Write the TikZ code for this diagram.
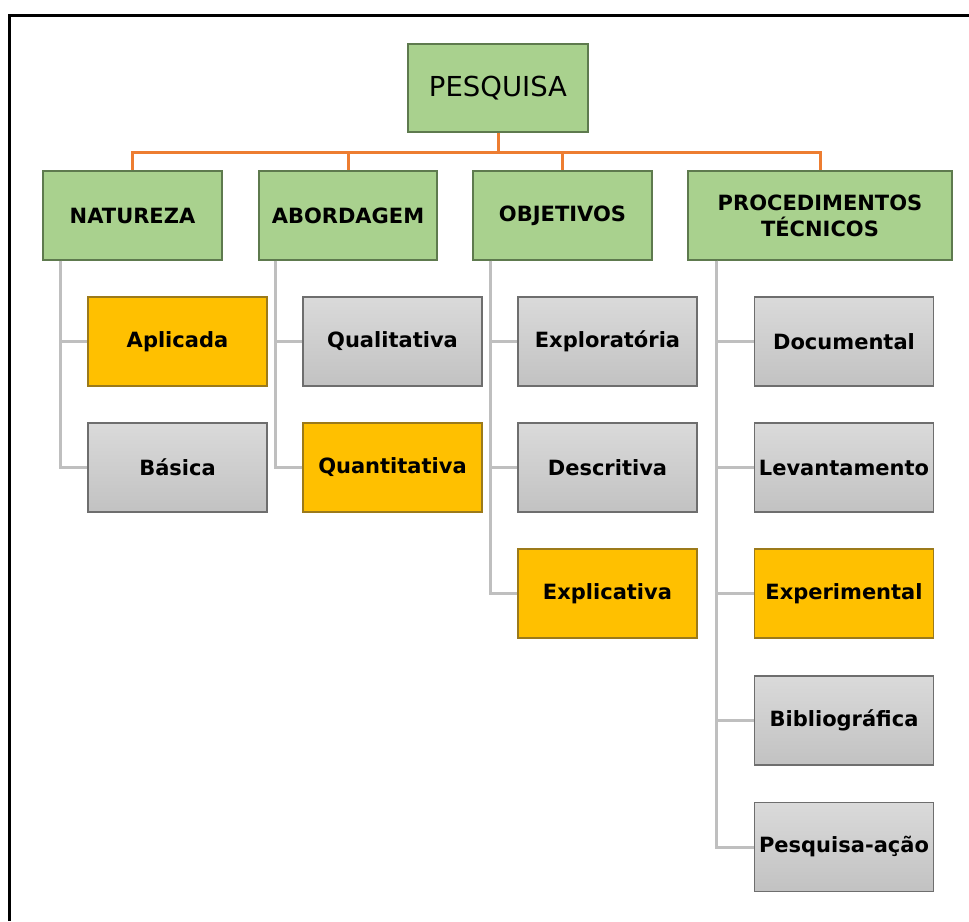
\documentclass[tikz,border=0pt]{standalone}
\usepackage{fontspec}
\setmainfont{DejaVu Sans}
\definecolor{leafgreen}{HTML}{A9D18E}
\definecolor{greenedge}{HTML}{5E7A4E}
\definecolor{amber}{HTML}{FFC000}
\definecolor{amberedge}{HTML}{9C7A1A}
\definecolor{greytop}{HTML}{DADADA}
\definecolor{greybot}{HTML}{C2C2C2}
\definecolor{greyedge}{HTML}{6E6E6E}
\definecolor{busorange}{HTML}{ED7D31}
\definecolor{treegrey}{HTML}{BFBFBF}
\begin{document}
\begin{tikzpicture}[x=1pt,y=-1pt,
  basebox/.style={rectangle, inner sep=2pt, line width=1.3pt, align=center,
    font=\fontsize{21}{26}\selectfont\bfseries, text=black},
  headbox/.style={basebox, fill=leafgreen, draw=greenedge,
    minimum width=179pt, minimum height=89pt},
  pickbox/.style={basebox, fill=amber, draw=amberedge,
    minimum width=179pt, minimum height=89pt},
  itembox/.style={basebox, top color=greytop, bottom color=greybot, draw=greyedge,
    minimum width=179pt, minimum height=89pt},
  busline/.style={draw=busorange, line width=3pt},
  treeline/.style={draw=treegrey, line width=3pt},
]
\useasboundingbox (0,0) rectangle (969,921);
\fill[white] (0,0) rectangle (969,921);

% outer frame (top and left edges)
\draw[line width=3.5pt, line join=miter] (9.5,921) -- (9.5,15.5) -- (969,15.5);

% root
\node[headbox, minimum width=180pt, minimum height=88pt,
  font=\fontsize{27.5}{30}\selectfont] (pesq) at (498,88) {PESQUISA};

% categories
\node[headbox] (nat) at (132.5,215.5) {NATUREZA};
\node[headbox, minimum width=178pt] (abo) at (348,215.5) {ABORDAGEM};
\node[headbox] (obj) at (562.5,215.5) {OBJETIVOS};
\node[headbox, minimum width=264pt] (proc) at (820,215.5) {PROCEDIMENTOS\\TÉCNICOS};

% orange bus
\coordinate (bus) at (498,152);
\draw[busline] (pesq.south) -- (bus);
\draw[busline] (nat.north) |- (bus);
\draw[busline] (abo.north) |- (bus);
\draw[busline] (obj.north) |- (bus);
\draw[busline] (proc.north) |- (bus);

% NATUREZA
\node[pickbox] (apl) at (177.5,341.5) {Aplicada};
\node[itembox] (bas) at (177.5,467.5) {Básica};
% ABORDAGEM
\node[itembox] (qual) at (392.5,341.5) {Qualitativa};
\node[pickbox] (quan) at (392.5,467.5) {Quantitativa};
% OBJETIVOS
\node[itembox] (expl) at (607.5,341.5) {Exploratória};
\node[itembox] (desc) at (607.5,467.5) {Descritiva};
\node[pickbox] (expc) at (607.5,593.5) {Explicativa};
% PROCEDIMENTOS TÉCNICOS
\node[itembox] (doc) at (844,341.5) {Documental};
\node[itembox] (lev) at (844,467.5) {Levantamento};
\node[pickbox] (expe) at (844,593.5) {Experimental};
\node[itembox] (bib) at (844,720.5) {Bibliográfica};
\node[itembox] (pac) at (844,847) {Pesquisa-ação};

% grey tree connectors
\draw[treeline] ([xshift=18pt]nat.south west) |- (apl.west);
\draw[treeline] ([xshift=18pt]nat.south west) |- (bas.west);
\draw[treeline] ([xshift=17pt]abo.south west) |- (qual.west);
\draw[treeline] ([xshift=17pt]abo.south west) |- (quan.west);
\draw[treeline] ([xshift=18pt]obj.south west) |- (expl.west);
\draw[treeline] ([xshift=18pt]obj.south west) |- (desc.west);
\draw[treeline] ([xshift=18pt]obj.south west) |- (expc.west);
\draw[treeline] ([xshift=29pt]proc.south west) |- (doc.west);
\draw[treeline] ([xshift=29pt]proc.south west) |- (lev.west);
\draw[treeline] ([xshift=29pt]proc.south west) |- (expe.west);
\draw[treeline] ([xshift=29pt]proc.south west) |- (bib.west);
\draw[treeline] ([xshift=29pt]proc.south west) |- (pac.west);
\end{tikzpicture}
\end{document}
